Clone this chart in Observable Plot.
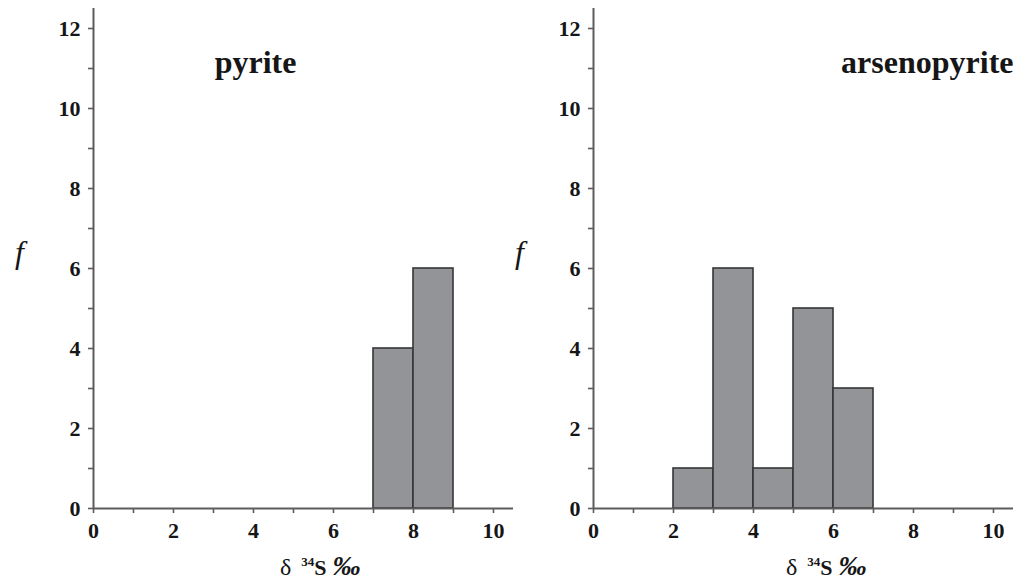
<!DOCTYPE html>
<html><head><meta charset="utf-8">
<script src="https://cdn.jsdelivr.net/npm/d3@7"></script>
<script src="https://cdn.jsdelivr.net/npm/@observablehq/plot@0.6"></script>
<style>
body{margin:0;background:#fff;}
#wrap{position:relative;width:1016px;height:585px;overflow:hidden;}
#left{position:absolute;left:0;top:0;}
#right{position:absolute;left:500px;top:0;}
#wrap svg g[aria-label$="tick label"] text{font-family:'Liberation Serif',serif;font-weight:bold;font-size:22px;fill:#161616;}
</style></head><body><div id="wrap"><div id="left"></div><div id="right"></div></div>
<script>
// data
const pyriteLow = [7, 8];
const pyriteHigh = [8, 9];
const pyriteCount = [4, 6];
const arsenoLow = [2, 3, 4, 5, 6];
const arsenoHigh = [3, 4, 5, 6, 7];
const arsenoCount = [1, 6, 1, 5, 3];
const xTickLabels = [0, 2, 4, 6, 8, 10];
const yTickLabels = [0, 2, 4, 6, 8, 10, 12];
const xMinor = d3.range(0, 11);
const yMinor = d3.range(0, 13);

const FONT = "'Liberation Serif', 'Times New Roman', serif";
const INK = "#161616";
const AXIS = "#5c5c5c";

function xLabelMark(offset) {
  return (index, scales, values, dims) => {
    const t = d3.create("svg:text")
      .attr("x", dims.marginLeft + offset)
      .attr("y", dims.height - dims.marginBottom + 67)
      .attr("text-anchor", "start")
      .attr("font-family", FONT)
      .attr("fill", INK)
      .attr("font-size", 24);
    t.append("tspan").text("δ");
    t.append("tspan").attr("dx", 10).attr("dy", -9).attr("font-size", 13).attr("font-weight", "bold").text("34");
    t.append("tspan").attr("dy", 9).attr("font-size", 22).attr("font-weight", "bold").text("S");
    t.append("tspan").attr("dx", 6).attr("font-size", 28).attr("font-weight", "bold").attr("font-style", "italic").text("‰");
    return t.node();
  };
}

function panel(title, lows, highs, counts, width, titleOpts, labelOffset) {
  const bins = lows.map((lo, i) => ({x1: lo, x2: highs[i], count: counts[i]}));
  return Plot.plot({
    width, height: 585,
    marginLeft: 93, marginRight: width - 513, marginTop: 8, marginBottom: 77,
    x: {domain: [0, 10.5]},
    y: {domain: [0, 12.5]},
    style: {fontFamily: FONT, background: "transparent", color: INK},
    marks: [
      Plot.rectY(bins, {x1: "x1", x2: "x2", y: "count", fill: "#939498", stroke: "#363636", strokeWidth: 1.6}),
      Plot.axisX({ticks: xMinor, tickSize: 5, tickFormat: () => "", stroke: AXIS, strokeWidth: 1.6, label: null}),
      Plot.axisX({ticks: xTickLabels, tickSize: 0, tickPadding: 14, label: null}),
      Plot.axisY({ticks: yMinor, tickSize: 5, tickFormat: () => "", stroke: AXIS, strokeWidth: 1.6, label: null}),
      Plot.axisY({ticks: yTickLabels, tickSize: 0, tickPadding: 13, label: null}),
      Plot.ruleX([0], {y1: 0, y2: 12.5, stroke: AXIS, strokeWidth: 2}),
      Plot.ruleY([0], {x1: 0, x2: 10.5, stroke: AXIS, strokeWidth: 2}),
      Plot.text([title], {fontSize: 32, fontWeight: "bold", fontFamily: FONT, fill: INK, ...titleOpts}),
      Plot.text(["f"], {frameAnchor: "left", dx: -74, dy: -6, textAnchor: "middle", fontSize: 32, fontStyle: "italic", fontFamily: FONT, fill: INK}),
      xLabelMark(labelOffset)
    ]
  });
}

document.getElementById("left").append(
  panel("pyrite", pyriteLow, pyriteHigh, pyriteCount, 520,
    {frameAnchor: "top-left", textAnchor: "middle", dx: 162, dy: 42}, 187)
);
document.getElementById("right").append(
  panel("arsenopyrite", arsenoLow, arsenoHigh, arsenoCount, 516,
    {frameAnchor: "top-right", textAnchor: "end", dx: 0, dy: 42}, 193)
);
</script>
</body></html>
